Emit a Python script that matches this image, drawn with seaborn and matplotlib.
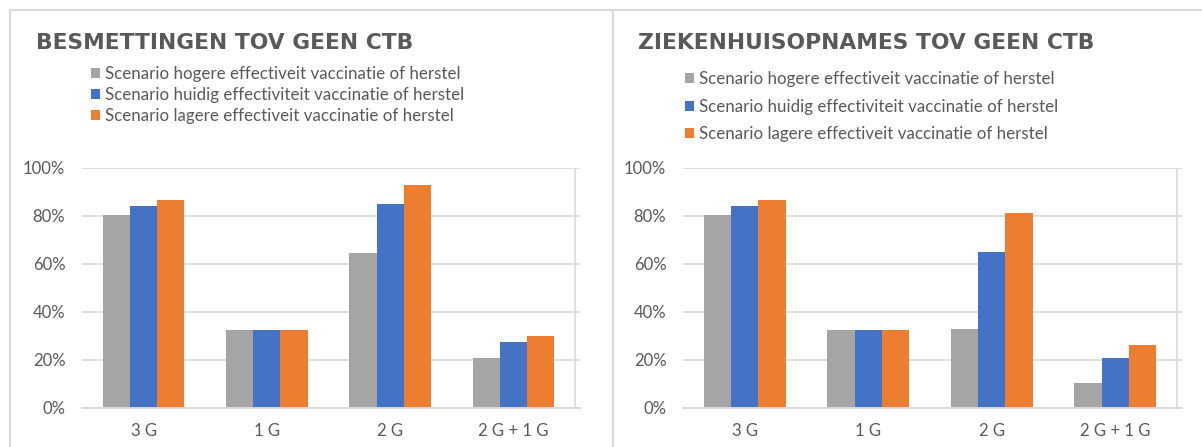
import matplotlib
matplotlib.use("Agg")
import matplotlib.pyplot as plt
from matplotlib.patches import Patch
from matplotlib.lines import Line2D
from matplotlib.ticker import PercentFormatter, FixedLocator
import seaborn as sns
import pandas as pd

# ---- data ----
categories = ["3 G", "1 G", "2 G", "2 G + 1 G"]
scenarios = [
    "Scenario hogere effectiveit vaccinatie of herstel",
    "Scenario huidig effectiviteit vaccinatie of herstel",
    "Scenario lagere effectiveit vaccinatie of herstel",
]
colors = ["#A5A5A5", "#4472C4", "#ED7D31"]

title_left = "BESMETTINGEN TOV GEEN CTB"
besm_hogere = [0.805, 0.325, 0.645, 0.209]
besm_huidig = [0.843, 0.325, 0.851, 0.276]
besm_lagere = [0.866, 0.325, 0.929, 0.299]

title_right = "ZIEKENHUISOPNAMES TOV GEEN CTB"
zkh_hogere = [0.805, 0.325, 0.331, 0.106]
zkh_huidig = [0.843, 0.325, 0.649, 0.209]
zkh_lagere = [0.866, 0.325, 0.813, 0.262]

yticks = [0, 0.2, 0.4, 0.6, 0.8, 1.0]

def long_df(series):
    rows = []
    for scen, vals in zip(scenarios, series):
        for c, v in zip(categories, vals):
            rows.append({"cat": c, "scenario": scen, "value": v})
    return pd.DataFrame(rows)

sns.set_theme(style="white")
plt.rcParams["font.family"] = ["Lato", "DejaVu Sans"]

W, H = 1202, 447
fig = plt.figure(figsize=(W / 100, H / 100), dpi=100)
fig.patch.set_facecolor("white")

GRID = "#D9D9D9"
TXT = "#595959"

def px(x, y):
    return x / W, 1 - y / H

# panel borders
for (x0, y0, x1, y1) in [(10, 10, W, 10), (10, 10, 10, H), (612.5, 10, 612.5, H)]:
    a, b = px(x0, y0)
    c, d = px(x1, y1)
    fig.add_artist(Line2D([a, c], [b, d], transform=fig.transFigure, color=GRID, lw=1.5))

def panel(left_px, cat_w, data, title, title_x, leg_x, leg_top, leg_spacing):
    width_px = 4 * cat_w + 5
    ax = fig.add_axes([left_px / W, (H - 408) / H, width_px / W, 240 / H])
    df = long_df(data)
    sns.barplot(data=df, x="cat", y="value", hue="scenario", palette=colors,
                hue_order=scenarios, order=categories, width=0.66, saturation=1,
                ax=ax, legend=False, errorbar=None, zorder=3,
                linewidth=0, edgecolor="none")
    ax.set_xlim(-0.5, 3.5 + 5 / cat_w)
    ax.set_ylim(0, 1.0)
    ax.set_yticks(yticks)
    ax.yaxis.set_major_formatter(PercentFormatter(1.0, decimals=0))
    ax.grid(axis="y", color=GRID, lw=1.2, zorder=0)
    ax.set_axisbelow(True)
    for s in ["top", "right", "left"]:
        ax.spines[s].set_visible(False)
    ax.spines["bottom"].set_color(GRID)
    ax.spines["bottom"].set_linewidth(1.4)
    ax.spines["bottom"].set_zorder(4)
    ax.axvline(3.5, color=GRID, lw=1.2, zorder=1)
    ax.set_xlabel("")
    ax.set_ylabel("")
    ax.tick_params(axis="y", length=0, pad=12, labelsize=12, labelcolor=TXT)
    ax.tick_params(axis="x", which="major", length=0, pad=11, labelsize=12, labelcolor=TXT)
    ax.xaxis.set_minor_locator(FixedLocator([-0.5, 0.5, 1.5, 2.5, 3.5]))
    ax.tick_params(axis="x", which="minor", length=4, width=1.2, color=GRID, direction="out")
    tx, ty = px(title_x, 43)
    fig.text(tx, ty, title, fontsize=15.7, fontweight="bold", color=TXT,
             va="center", ha="left", family="DejaVu Sans")
    handles = [Patch(facecolor=c, edgecolor="none") for c in colors]
    lx, ly = px(leg_x, leg_top)
    fig.legend(handles, scenarios, loc="upper left", bbox_to_anchor=(lx, ly),
               bbox_transform=fig.transFigure, frameon=False, fontsize=12.2,
               handlelength=0.55, handleheight=0.55, handletextpad=0.3,
               labelspacing=leg_spacing, borderpad=0, borderaxespad=0,
               labelcolor=TXT)
    return ax

panel(82, 123.25, [besm_hogere, besm_huidig, besm_lagere], title_left, 36, 91, 66, 0.3)
panel(683, 123.5, [zkh_hogere, zkh_huidig, zkh_lagere], title_right, 638, 684.5, 71, 0.69)

fig.savefig("out.png", dpi=100, facecolor="white")
